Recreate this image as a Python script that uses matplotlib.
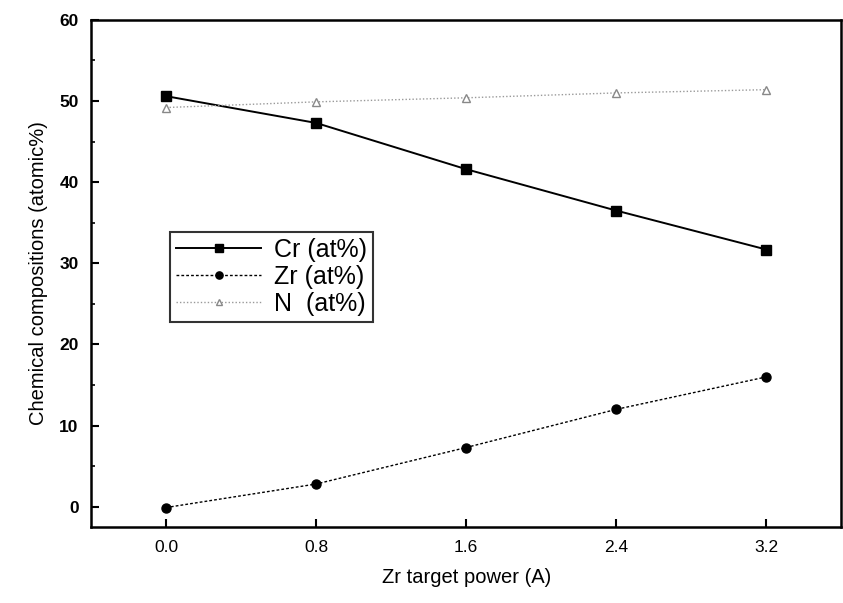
import numpy as np
import matplotlib.pyplot as plt
from matplotlib.ticker import MultipleLocator

# Data
power = [0.0, 0.8, 1.6, 2.4, 3.2]
cr = [50.6, 47.3, 41.6, 36.5, 31.7]
zr = [-0.1, 2.8, 7.3, 12.0, 16.0]
n = [49.2, 49.9, 50.4, 51.0, 51.4]
xticks = [0.0, 0.8, 1.6, 2.4, 3.2]

plt.rcParams['font.family'] = ['Liberation Sans', 'DejaVu Sans']

fig = plt.figure(figsize=(8.43, 6.03), dpi=100)
ax = fig.add_axes([0.108, 0.126, 0.890, 0.841])

ax.plot(power, cr, color='black', linestyle='-', linewidth=1.4,
        marker='s', markersize=7, label='Cr (at%)')
ax.plot(power, zr, color='black', linestyle=(0, (2, 1.5)), linewidth=1.0,
        marker='o', markersize=6.5, label='Zr (at%)')
ax.plot(power, n, color='#999999', linestyle=(0, (1, 1.5)), linewidth=1.0,
        marker='^', markersize=6, markerfacecolor='white', markeredgecolor='#888888',
        label='N  (at%)')

ax.set_xlim(-0.4, 3.6)
ax.set_ylim(-2.5, 60)
ax.set_xticks(xticks)
ax.set_xticklabels(['%.1f' % v for v in xticks])
ax.yaxis.set_major_locator(MultipleLocator(10))
ax.yaxis.set_minor_locator(MultipleLocator(5))
ax.tick_params(direction='in', length=6, width=1.5, labelsize=12.5, pad=9)
ax.tick_params(which='minor', direction='in', length=3, width=1.2)
for lab in ax.get_yticklabels():
    lab.set_fontweight('bold')
for s in ax.spines.values():
    s.set_linewidth(1.8)

ax.set_xlabel('Zr target power (A)', fontsize=14.5, labelpad=10)
ax.set_ylabel('Chemical compositions (atomic%)', fontsize=14.5, labelpad=8)

leg = ax.legend(loc='lower left', bbox_to_anchor=(0.105, 0.404), borderaxespad=0,
                fontsize=18, frameon=True, fancybox=False, edgecolor='black',
                handlelength=3.4, borderpad=0.25, labelspacing=0.12, handletextpad=0.5,
                markerscale=0.8)
leg.get_frame().set_linewidth(1.5)

fig.savefig('out.png', dpi=100)
